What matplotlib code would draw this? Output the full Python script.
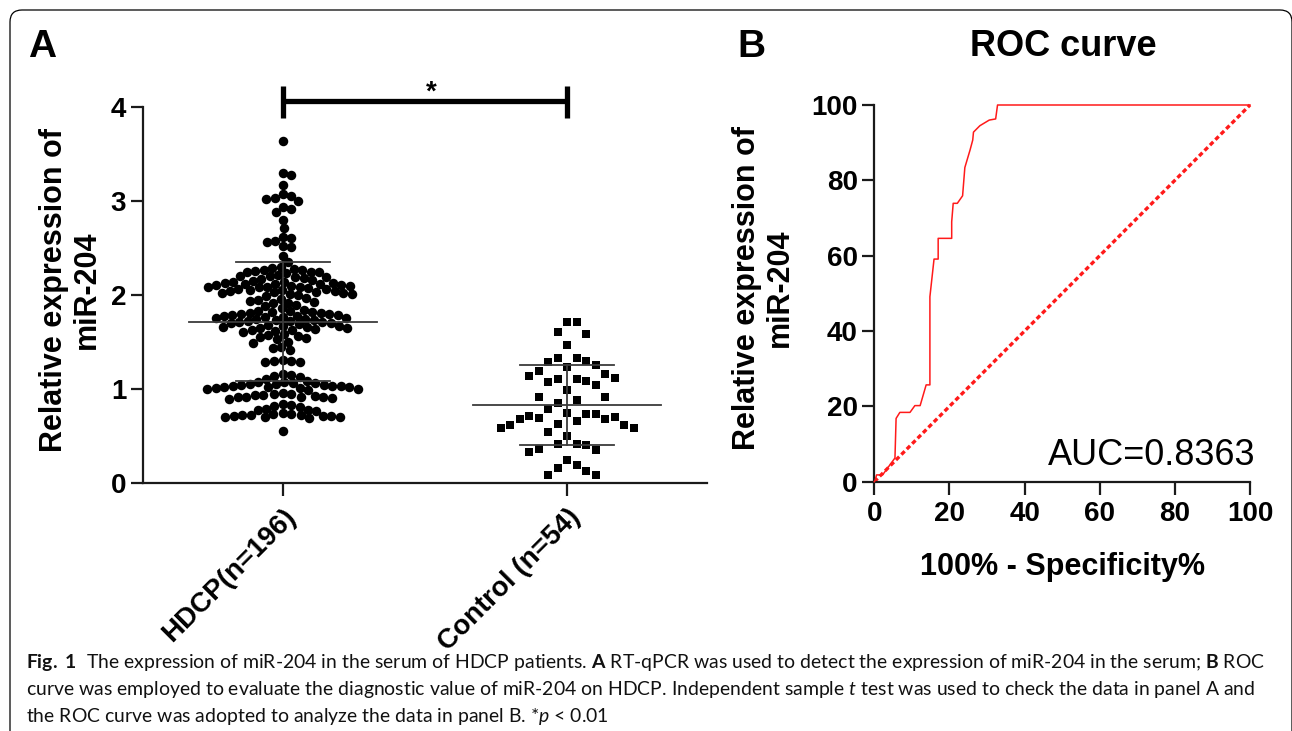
import numpy as np
import matplotlib
matplotlib.use("Agg")
import matplotlib.pyplot as plt
from matplotlib.patches import FancyBboxPatch
from matplotlib.transforms import IdentityTransform
from matplotlib import font_manager as fm

# ---------------- data ----------------
groups = ["HDCP(n=196)", "Control (n=54)"]

hdcp_values = [
    3.64, 3.30, 3.28, 3.17, 3.07, 3.05, 3.03, 3.02, 3.00, 2.94, 2.92, 2.88, 2.80,
    2.71, 2.62, 2.61, 2.57, 2.56, 2.52, 2.51, 2.42, 2.35,
    2.30, 2.29, 2.28, 2.27, 2.27, 2.26, 2.25, 2.25, 2.24, 2.23,
    2.21, 2.20, 2.20, 2.19, 2.19, 2.18, 2.17, 2.16,
    2.15, 2.14, 2.14, 2.13, 2.13, 2.12, 2.12, 2.12, 2.11, 2.11, 2.10, 2.10, 2.09, 2.09, 2.08, 2.08,
    2.07, 2.06, 2.06, 2.05, 2.05, 2.04, 2.04, 2.03, 2.03, 2.02, 2.02, 2.01, 2.01, 2.00,
    1.99, 1.97, 1.96, 1.95, 1.94, 1.93, 1.92, 1.91, 1.89, 1.88, 1.86,
    1.84, 1.83, 1.83, 1.82, 1.82, 1.81, 1.81, 1.80, 1.80, 1.79, 1.79, 1.78, 1.78, 1.77, 1.77, 1.76, 1.76, 1.75,
    1.74, 1.73, 1.73, 1.72, 1.72, 1.71, 1.71, 1.70, 1.70, 1.69,
    1.68, 1.67, 1.67, 1.66, 1.66, 1.65, 1.65, 1.64, 1.63, 1.63, 1.62, 1.61,
    1.58, 1.57, 1.56, 1.55, 1.54, 1.53,
    1.50, 1.49, 1.45, 1.44, 1.41,
    1.31, 1.30, 1.30, 1.29, 1.29,
    1.16, 1.15, 1.14, 1.13, 1.11,
    1.08, 1.07, 1.07, 1.06, 1.06, 1.05, 1.05, 1.04, 1.04, 1.03, 1.03, 1.03, 1.02, 1.02, 1.02,
    1.01, 1.01, 1.00, 1.00, 0.99,
    0.96, 0.95, 0.95, 0.94, 0.94, 0.93, 0.92, 0.92, 0.91, 0.91, 0.90, 0.89,
    0.84, 0.83, 0.82, 0.81,
    0.79, 0.78, 0.78, 0.77,
    0.74, 0.73, 0.73, 0.72, 0.72, 0.72, 0.71, 0.71, 0.71, 0.70, 0.70, 0.70, 0.69,
    0.55,
]

control_values = [
    1.71, 1.71, 1.59, 1.61, 1.47, 1.33, 1.33, 1.26, 1.30, 1.23, 1.29, 1.19, 1.14,
    1.11, 1.08, 1.12, 1.16, 1.07, 1.11, 1.04, 0.99, 0.91, 0.85, 0.91, 0.88, 0.79,
    0.75, 0.73, 0.70, 0.71, 0.73, 0.62, 0.62, 0.66, 0.59, 0.68, 0.69, 0.68, 0.63,
    0.59, 0.54, 0.50, 0.41, 0.40, 0.36, 0.41, 0.35, 0.33, 0.25, 0.16, 0.19, 0.13,
    0.09, 0.08,
]

hdcp_mean, hdcp_sd = 1.715, 0.635
control_mean, control_sd = 0.83, 0.43
sig_label = "*"

y_ticks_a = [0, 1, 2, 3, 4]

roc_fpr = [0.0, 0.2, 0.6, 2.2, 5.5, 5.8, 6.8, 9.5, 10.8, 12.2, 13.8, 14.8, 14.8,
           15.9, 17.0, 17.0, 20.6, 20.6, 21.0, 22.1, 23.5, 24.1, 25.5, 26.2, 26.4,
           28.1, 30.6, 32.3, 32.8, 100.0]
roc_tpr = [0.0, 0.3, 1.8, 1.8, 6.3, 16.8, 18.4, 18.4, 20.2, 20.2, 25.7, 25.7, 49.1,
           59.1, 59.1, 64.6, 64.6, 69.0, 73.9, 73.9, 75.9, 83.4, 88.1, 90.7, 92.8,
           94.5, 96.0, 96.3, 100.0, 100.0]
auc_text = "AUC=0.8363"
roc_ticks = [0, 20, 40, 60, 80, 100]

caption_lines = [
    r"$\mathbf{Fig.}$$\mathbf{\ 1}$  The expression of miR-204 in the serum of HDCP patients. $\mathbf{A}$ RT-qPCR was used to detect the expression of miR-204 in the serum; $\mathbf{B}$ ROC",
    r"curve was employed to evaluate the diagnostic value of miR-204 on HDCP. Independent sample $t$ test was used to check the data in panel A and",
    r"the ROC curve was adopted to analyze the data in panel B. *$p$ < 0.01",
]

# ---------------- style ----------------
W, H, DPI = 1292, 731, 100
names = {f.name for f in fm.fontManager.ttflist}
cap_font = 'Liberation Sans Narrow' if 'Liberation Sans Narrow' in names else 'Lato'

plt.rcParams['font.family'] = ['Liberation Sans', 'DejaVu Sans']
plt.rcParams['font.weight'] = 'normal'
plt.rcParams['mathtext.fontset'] = 'custom'
plt.rcParams['mathtext.rm'] = cap_font
plt.rcParams['mathtext.bf'] = cap_font + ':bold'
plt.rcParams['mathtext.it'] = cap_font + ':italic'

fig = plt.figure(figsize=(W / DPI, H / DPI), dpi=DPI)
SPINE = '#1a1a1a'
TICK_FS = 20
LABEL_FS = 22


def px_axes(x0, y_top, x1, y_bot):
    return fig.add_axes([x0 / W, 1 - y_bot / H, (x1 - x0) / W, (y_bot - y_top) / H])


def style_axes(ax):
    for s in ['top', 'right']:
        ax.spines[s].set_visible(False)
    for s in ['left', 'bottom']:
        ax.spines[s].set_linewidth(1.6)
        ax.spines[s].set_color(SPINE)
    ax.tick_params(direction='out', length=9, width=1.6, color=SPINE,
                   labelsize=TICK_FS, pad=3)


def swarm(values, wx, hy, xpu, ypu, rect=False):
    """Place points so they do not overlap (in pixel space)."""
    vals = np.asarray(values, float)
    order = np.argsort(-vals, kind='stable')
    px_l, py_l = [], []
    off = np.zeros(len(vals))

    def collide(c, y, px, py):
        if rect:
            return abs(c - px) < wx - 1e-6 and abs(y - py) < hy
        return (c - px) ** 2 + (y - py) ** 2 < wx ** 2 - 1e-6

    for i in order:
        y = vals[i] * ypu
        cands = [0.0]
        near = []
        for px, py in zip(px_l, py_l):
            dy = abs(py - y)
            if dy < (hy if rect else wx):
                near.append((px, py))
                dx = wx if rect else np.sqrt(wx ** 2 - dy ** 2)
                cands += [px + dx, px - dx]
        cands.sort(key=abs)
        x = 0.0
        for c in cands:
            if not any(collide(c, y, px, py) for px, py in near):
                x = c
                break
        px_l.append(x)
        py_l.append(y)
        off[i] = x / xpu
    return off


# ---------------- panel A ----------------
axA = px_axes(143, 107, 707, 483)
xlimA = (-0.49, 1.49)
axA.set_xlim(*xlimA)
axA.set_ylim(0, 4)
style_axes(axA)
axA.set_yticks(y_ticks_a)
axA.set_yticklabels([str(v) for v in y_ticks_a], fontweight='bold')
axA.set_xticks([0, 1])
axA.set_xticklabels(groups, rotation=45, ha='right', va='top',
                    rotation_mode='anchor', fontweight='bold')
axA.tick_params(axis='x', pad=6)

xpu = (707 - 143) / (xlimA[1] - xlimA[0])
ypu = (483 - 107) / 4.0
off_h = swarm(hdcp_values, 8.6, 8.6, xpu, ypu)
off_c = swarm(control_values, 9.5, 20.0, xpu, ypu, rect=True)
axA.scatter(0 + off_h, hdcp_values, s=47, marker='o', color='black',
            linewidths=0, zorder=2, clip_on=False)
axA.scatter(1 + off_c, control_values, s=40, marker='s', color='black',
            linewidths=0, zorder=2, clip_on=False)

EB = '#3c3c3c'
for xc, m, sd in [(0, hdcp_mean, hdcp_sd), (1, control_mean, control_sd)]:
    axA.plot([xc - 0.33, xc + 0.33], [m, m], color=EB, lw=1.3, zorder=3)
    axA.plot([xc, xc], [m - sd, m + sd], color=EB, lw=1.3, zorder=3)
    for yy in (m - sd, m + sd):
        axA.plot([xc - 0.165, xc + 0.165], [yy, yy], color=EB, lw=1.3, zorder=3)

# significance bracket
yb = (483 - 101) / ypu
yc_top = (483 - 86) / ypu
yc_bot = (483 - 118) / ypu
axA.plot([0, 1], [yb, yb], color='black', lw=3.8, solid_capstyle='butt', clip_on=False)
for xc in (0, 1):
    axA.plot([xc, xc], [yc_bot, yc_top], color='black', lw=3.8,
             solid_capstyle='butt', clip_on=False)
axA.text(0.523, (483 - 100) / ypu, sig_label, ha='center', va='baseline',
         fontsize=20, fontweight='bold', clip_on=False)

fig.text(70 / W, 1 - 290 / H, "Relative expression of\nmiR-204", rotation=90,
         ha='center', va='center', fontsize=LABEL_FS, fontweight='bold',
         multialignment='center', linespacing=1.12)
fig.text(28 / W, 1 - 57 / H, "A", ha='left', va='baseline', fontsize=28,
         fontweight='bold')

# ---------------- panel B ----------------
axB = px_axes(874.3, 105, 1250, 481.7)
axB.set_xlim(0, 100)
axB.set_ylim(0, 100)
style_axes(axB)
axB.set_xticks(roc_ticks)
axB.set_yticks(roc_ticks)
axB.set_xticklabels([str(v) for v in roc_ticks], fontweight='bold')
axB.set_yticklabels([str(v) for v in roc_ticks], fontweight='bold')
axB.tick_params(axis='x', pad=5)

axB.plot([0, 100], [0, 100], color='#ff1a1a', lw=2.4, linestyle=(0, (1.4, 0.9)),
         clip_on=False, zorder=2)
axB.plot(roc_fpr, roc_tpr, color='#ff1a1a', lw=1.1, clip_on=False, zorder=3)
axB.text(46.2, 7.0, auc_text, ha='left', va='center', fontsize=26,
         fontweight='normal')

fig.text(1063 / W, 1 - 46 / H, "ROC curve", ha='center', va='center',
         fontsize=26, fontweight='bold')
fig.text(1063 / W, 1 - 567 / H, "100% - Specificity%", ha='center', va='center',
         fontsize=LABEL_FS, fontweight='bold')
fig.text(763 / W, 1 - 288 / H, "Relative expression of\nmiR-204", rotation=90,
         ha='center', va='center', fontsize=LABEL_FS, fontweight='bold',
         multialignment='center', linespacing=1.12)
fig.text(737 / W, 1 - 57 / H, "B", ha='left', va='baseline', fontsize=28,
         fontweight='bold')

# ---------------- caption ----------------
cap_fs = 13.0
cap_texts = []
for line, yb_px in zip(caption_lines, [668, 695, 722]):
    t = fig.text(26 / W, 1 - yb_px / H, line, ha='left', va='baseline',
                 fontsize=cap_fs, fontweight='normal',
                 family=[cap_font, 'DejaVu Sans'], color='#111111')
    cap_texts.append(t)
renderer = fig.canvas.get_renderer()
w0 = cap_texts[0].get_window_extent(renderer).width
scale = (1262 - 26) / w0
for t in cap_texts:
    t.set_fontsize(cap_fs * scale)

# ---------------- frame ----------------
frame = FancyBboxPatch((10, -40), 1282, 721 + 40,
                       boxstyle="round,pad=0,rounding_size=12",
                       transform=IdentityTransform(), fill=False,
                       edgecolor='black', lw=0.9)
fig.add_artist(frame)

fig.savefig("out.png", dpi=DPI)
